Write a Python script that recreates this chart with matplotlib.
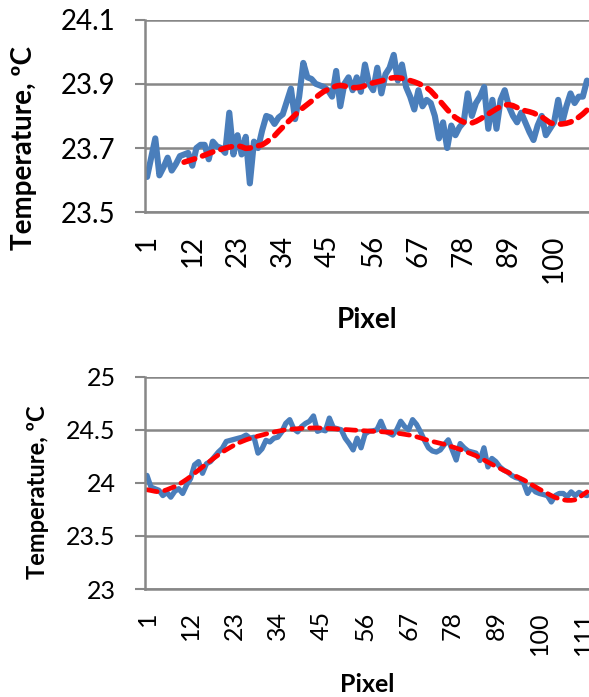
import matplotlib
matplotlib.use("Agg")
import matplotlib.pyplot as plt

plt.rcParams["font.family"] = ["Lato", "DejaVu Sans"]

BLUE = "#4a7ebb"
RED = "#ff0000"
GRID = "#878787"

# upper scan: measured temperature per pixel and its moving-average trend (from pixel 10)
upper_temp = [
    23.61, 23.67, 23.73, 23.615, 23.64, 23.67, 23.63, 23.65, 23.675, 23.68,
    23.685, 23.645, 23.70, 23.71, 23.71, 23.665, 23.72, 23.705, 23.70, 23.685,
    23.81, 23.68, 23.74, 23.68, 23.735, 23.59, 23.72, 23.70, 23.755, 23.80,
    23.795, 23.775, 23.795, 23.805, 23.845, 23.885, 23.79, 23.86, 23.965, 23.92,
    23.915, 23.90, 23.895, 23.89, 23.88, 23.86, 23.94, 23.83, 23.90, 23.92,
    23.88, 23.92, 23.875, 23.96, 23.90, 23.88, 23.95, 23.87, 23.93, 23.95,
    23.99, 23.91, 23.96, 23.89, 23.86, 23.82, 23.88, 23.83, 23.85, 23.84,
    23.80, 23.73, 23.78, 23.70, 23.77, 23.74, 23.765, 23.78, 23.87, 23.80,
    23.84, 23.86, 23.89, 23.76, 23.85, 23.76, 23.85, 23.88, 23.83, 23.80,
    23.78, 23.81, 23.78, 23.75, 23.725, 23.77, 23.80, 23.74, 23.76, 23.78,
    23.85, 23.78, 23.83, 23.87, 23.84, 23.86, 23.86, 23.91,
]
upper_trend = [
    23.656, 23.660, 23.664, 23.668, 23.673, 23.678, 23.683, 23.688, 23.692, 23.696,
    23.700, 23.703, 23.705, 23.707, 23.704, 23.699, 23.700, 23.704, 23.707, 23.710,
    23.718, 23.728, 23.738, 23.752, 23.765, 23.778, 23.790, 23.803, 23.815, 23.826,
    23.836, 23.846, 23.857, 23.867, 23.876, 23.882, 23.888, 23.893, 23.895, 23.893,
    23.890, 23.888, 23.888, 23.890, 23.894, 23.899, 23.903, 23.906, 23.909, 23.913,
    23.917, 23.919, 23.919, 23.917, 23.914, 23.910, 23.906, 23.901, 23.895, 23.888,
    23.878, 23.864, 23.850, 23.835, 23.820, 23.806, 23.795, 23.787, 23.781, 23.778,
    23.778, 23.783, 23.790, 23.798, 23.806, 23.814, 23.822, 23.829, 23.834, 23.835,
    23.832, 23.826, 23.820, 23.816, 23.813, 23.809, 23.803, 23.797, 23.788, 23.779,
    23.775, 23.774, 23.775, 23.777, 23.781, 23.787, 23.796, 23.806, 23.818,
]
upper_trend_start = 10

# lower scan
lower_temp = [
    24.07, 23.96, 23.945, 23.93, 23.88, 23.91, 23.865, 23.92, 23.945, 23.90,
    23.98, 24.04, 24.17, 24.20, 24.09, 24.18, 24.20, 24.245, 24.29, 24.325,
    24.39, 24.40, 24.41, 24.42, 24.43, 24.45, 24.42, 24.43, 24.28, 24.32,
    24.40, 24.385, 24.42, 24.43, 24.48, 24.56, 24.595, 24.51, 24.48, 24.53,
    24.56, 24.58, 24.63, 24.485, 24.50, 24.49, 24.61, 24.52, 24.51, 24.50,
    24.42, 24.37, 24.31, 24.42, 24.33, 24.46, 24.485, 24.49, 24.50, 24.58,
    24.49, 24.47, 24.45, 24.50, 24.58, 24.53, 24.50, 24.595, 24.55, 24.48,
    24.40, 24.33, 24.30, 24.29, 24.31, 24.36, 24.405, 24.31, 24.215, 24.37,
    24.33, 24.30, 24.29, 24.28, 24.21, 24.33, 24.15, 24.23, 24.20, 24.15,
    24.12, 24.10, 24.07, 24.05, 24.04, 24.00, 23.90, 23.96, 23.915, 23.90,
    23.89, 23.88, 23.82, 23.88, 23.90, 23.90, 23.87, 23.915, 23.88, 23.91,
    23.89, 23.88,
]
lower_trend = [
    23.935, 23.928, 23.920, 23.915, 23.922, 23.935, 23.950, 23.965, 23.985, 24.008,
    24.033, 24.060, 24.090, 24.120, 24.150, 24.180, 24.208, 24.236, 24.263, 24.290,
    24.312, 24.334, 24.355, 24.375, 24.390, 24.405, 24.418, 24.430, 24.440, 24.450,
    24.460, 24.470, 24.478, 24.486, 24.493, 24.500, 24.504, 24.507, 24.510, 24.513,
    24.515, 24.516, 24.517, 24.517, 24.516, 24.514, 24.512, 24.510, 24.507, 24.505,
    24.502, 24.500, 24.497, 24.495, 24.492, 24.490, 24.488, 24.486, 24.484, 24.482,
    24.479, 24.476, 24.472, 24.468, 24.463, 24.457, 24.451, 24.445, 24.434, 24.423,
    24.411, 24.400, 24.390, 24.381, 24.372, 24.363, 24.351, 24.339, 24.327, 24.315,
    24.300, 24.285, 24.270, 24.255, 24.235, 24.215, 24.195, 24.175, 24.156, 24.137,
    24.118, 24.100, 24.082, 24.064, 24.046, 24.028, 24.006, 23.984, 23.962, 23.940,
    23.920, 23.900, 23.880, 23.862, 23.850, 23.840, 23.835, 23.835, 23.840, 23.860,
    23.890, 23.915,
]

upper_yticks = [23.5, 23.7, 23.9, 24.1]
upper_ylabels = ["23.5", "23.7", "23.9", "24.1"]
lower_yticks = [23, 23.5, 24, 24.5, 25]
lower_ylabels = ["23", "23.5", "24", "24.5", "25"]
upper_xticks = [1, 12, 23, 34, 45, 56, 67, 78, 89, 100]
lower_xticks = [1, 12, 23, 34, 45, 56, 67, 78, 89, 100, 111]


def style_axes(ax, n, yticks, ylabels, xticks, fs):
    ax.set_xlim(0.5, n + 0.5)
    ax.set_ylim(yticks[0], yticks[-1])
    ax.set_yticks(yticks)
    ax.set_yticklabels(ylabels, fontsize=fs)
    ax.set_xticks(xticks)
    ax.set_xticklabels([str(t) for t in xticks], rotation=90, fontsize=fs)
    ax.tick_params(axis="x", length=0, pad=16)
    ax.tick_params(axis="y", length=7, width=1.5, color=GRID, pad=14)
    for side in ["top", "right"]:
        ax.spines[side].set_visible(False)
    for side in ["left", "bottom"]:
        ax.spines[side].set_color(GRID)
        ax.spines[side].set_linewidth(1.8)
    ax.grid(axis="y", color=GRID, linewidth=1.8)
    ax.set_axisbelow(True)


fig = plt.figure(figsize=(5.89, 6.97), dpi=100)

# upper chart
ax1 = fig.add_axes([0.2462, 0.6954, 0.7538, 0.2766])
x1 = list(range(1, len(upper_temp) + 1))
xt1 = list(range(upper_trend_start, upper_trend_start + len(upper_trend)))
ax1.plot(x1, upper_temp, color=BLUE, linewidth=4.4, solid_joinstyle="round",
         solid_capstyle="round")
ax1.plot(xt1, upper_trend, color=RED, linewidth=4.0, linestyle=(0, (2.0, 1.5)),
         dash_capstyle="round")
style_axes(ax1, len(upper_temp), upper_yticks, upper_ylabels, upper_xticks, 20)

# lower chart
ax2 = fig.add_axes([0.2462, 0.1549, 0.7538, 0.3047])
x2 = list(range(1, len(lower_temp) + 1))
ax2.plot(x2, lower_temp, color=BLUE, linewidth=3.8, solid_joinstyle="round",
         solid_capstyle="round")
ax2.plot(x2, lower_trend, color=RED, linewidth=3.4, linestyle=(0, (2.2, 1.6)),
         dash_capstyle="round")
style_axes(ax2, len(lower_temp), lower_yticks, lower_ylabels, lower_xticks, 18)

# axis titles
fig.text(0.041, 1 - 148 / 697, "Temperature, ºC", rotation=90, ha="center",
         va="center", fontsize=20, fontweight="bold")
fig.text(0.063, 1 - 492 / 697, "Temperature, ºC", rotation=90, ha="center",
         va="center", fontsize=17, fontweight="bold")
fig.text(0.623, 1 - 320 / 697, "Pixel", ha="center", va="center",
         fontsize=20, fontweight="bold")
fig.text(0.623, 1 - 684 / 697, "Pixel", ha="center", va="center",
         fontsize=18, fontweight="bold")

fig.savefig("out.png", dpi=100)
